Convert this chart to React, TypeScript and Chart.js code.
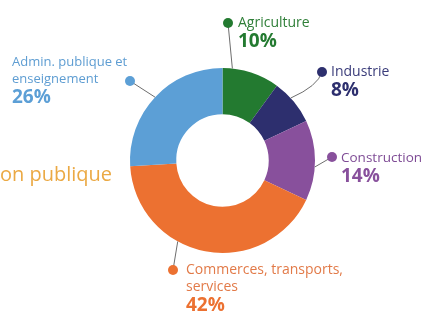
import React, { useEffect, useRef } from "react";
import { Chart, registerables } from "chart.js";

Chart.register(...registerables);

const categories = ["Agriculture", "Industrie", "Construction", "Commerces, transports, services", "Admin. publique et enseignement"];
const labelLines = [["Agriculture"], ["Industrie"], ["Construction"], ["Commerces, transports,", "services"], ["Admin. publique et", "enseignement"]];
const values = [10, 8, 14, 42, 26];
const pctLabels = ["10%", "8%", "14%", "42%", "26%"];
const colors = ["#237a30", "#2d2f6e", "#88509c", "#ec7131", "#5c9fd6"];
const textColors = ["#2f7f38", "#3a3c7a", "#7e4b95", "#e27a48", "#5e9dd2"];
const titleText = "on publique";

// layout (positions only)
const anchorFrac = [0.17, 0.4, 0.58, 0.62, 0.5];
const dotPos = [[228, 23], [322, 72], [332, 157], [173, 270], [130, 81]];
const textPos = [[238, 23], [331, 72], [341, 158], [186, 270], [12, 62]];
const labelFont = [14, 14, 13.5, 14, 13];
const lineGap = 17;
const pctGap = 19;

const labelPlugin = {
  id: "labelPlugin",
  afterDraw(chart: any) {
    const ctx = chart.ctx;
    const meta = chart.getDatasetMeta(0);
    ctx.save();
    ctx.fillStyle = "#eba944";
    ctx.font = "20px 'Open Sans'";
    ctx.textBaseline = "middle";
    ctx.textAlign = "left";
    ctx.fillText(titleText, 0, 175);

    meta.data.forEach((arc: any, i: number) => {
      const p = arc.getProps(["x", "y", "startAngle", "endAngle", "outerRadius"], true);
      const a = p.startAngle + (p.endAngle - p.startAngle) * anchorFrac[i];
      const ax = p.x + Math.cos(a) * p.outerRadius;
      const ay = p.y + Math.sin(a) * p.outerRadius;
      const [dx, dy] = dotPos[i];
      ctx.strokeStyle = "#6d6d6d";
      ctx.lineWidth = 1;
      ctx.beginPath();
      ctx.moveTo(dx, dy);
      if (i === 1) {
        ctx.quadraticCurveTo(dx - 4, ay - 12, ax, ay);
      } else {
        ctx.lineTo(ax, ay);
      }
      ctx.stroke();
      ctx.fillStyle = colors[i];
      ctx.beginPath();
      ctx.arc(dx, dy, 5, 0, Math.PI * 2);
      ctx.fill();

      const [tx, ty] = textPos[i];
      ctx.fillStyle = textColors[i];
      ctx.font = `${labelFont[i]}px 'Open Sans'`;
      const lines = labelLines[i];
      lines.forEach((l, k) => ctx.fillText(l, tx, ty + k * lineGap));
      ctx.font = "bold 19px 'Open Sans'";
      ctx.fillStyle = colors[i];
      ctx.fillText(pctLabels[i], tx, ty + (lines.length - 1) * lineGap + pctGap);
    });
    ctx.restore();
  },
};

export default function App() {
  const ref = useRef<HTMLCanvasElement>(null);
  useEffect(() => {
    const chart = new Chart(ref.current!, {
      type: "doughnut",
      data: {
        labels: categories,
        datasets: [{ data: values, backgroundColor: colors, borderWidth: 0 }],
      },
      options: {
        responsive: false,
        animation: false,
        cutout: "50%",
        layout: { padding: { left: 130, right: 113, top: 68, bottom: 61 } },
        plugins: { legend: { display: false }, tooltip: { enabled: false } },
      },
      plugins: [labelPlugin],
    });
    return () => chart.destroy();
  }, []);
  return (
    <div style={{ position: "fixed", left: 0, top: 0, width: 428, height: 314, background: "#fff" }}>
      <canvas ref={ref} width={428} height={314} />
    </div>
  );
}
